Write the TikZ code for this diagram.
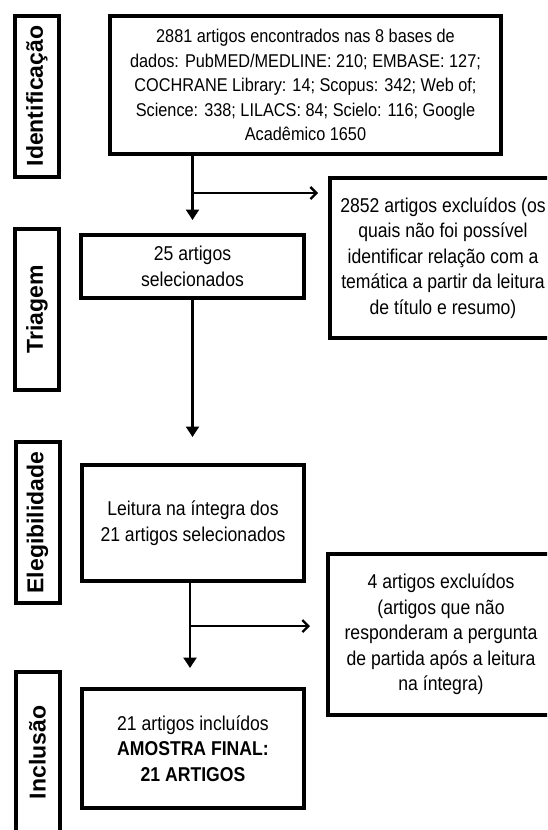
\documentclass[tikz,border=0pt]{standalone}
\usepackage{fontspec}
\newfontfamily\narrowsans{Liberation Sans}[FakeStretch=0.88]
\newfontfamily\labelsans{Liberation Sans}
\usetikzlibrary{arrows.meta}

\begin{document}
\begin{tikzpicture}[x=1pt,y=-1pt,line width=2.3pt,
  every node/.style={font=\narrowsans\fontsize{20pt}{25.5pt}\selectfont,align=center,inner sep=0pt},
  stagebox/.style={draw,line width=4pt,minimum width=161pt,minimum height=44pt,rotate=90,
    font=\labelsans\bfseries\fontsize{23pt}{26pt}\selectfont},
  flowbox/.style={draw,line width=4pt},
  vflow/.style={-{Triangle[length=10.5pt,width=13pt]}},
  hflow/.style={-{Straight Barb[length=6pt,width=12pt]}}]
\useasboundingbox (0,0) rectangle (547,830);
\clip (0,0) rectangle (547,830);
% phase labels
\node[stagebox] (ident) at (37,96) {Identificação};
\node[stagebox] (triag) at (37,309.5) {Triagem};
\node[stagebox] (elegi) at (37.5,522.5) {Elegibilidade};
\node[stagebox] (inclu) at (37.5,752.5) {Inclusão};
% boxes
\node[flowbox,minimum width=391pt,minimum height=138pt,
  font=\narrowsans\fontsize{18.5pt}{24.5pt}\selectfont] (found) at (305.5,85)
  {2881 artigos encontrados nas 8 bases de\\dados: PubMED/MEDLINE: 210; EMBASE: 127;\\COCHRANE Library: 14; Scopus: 342; Web of;\\Science: 338; LILACS: 84; Scielo: 116; Google\\Acadêmico 1650};
\node[flowbox,minimum width=226pt,minimum height=160pt] (excl1) at (443,258)
  {2852 artigos excluídos (os\\quais não foi possível\\identificar relação com a\\temática a partir da leitura\\de título e resumo)};
\node[flowbox,minimum width=223pt,minimum height=63pt] (sel) at (192.5,266.5)
  {25 artigos\\selecionados};
\node[flowbox,minimum width=222pt,minimum height=116pt] (read) at (193,523)
  {Leitura na íntegra dos\\21 artigos selecionados};
\node[flowbox,minimum width=226pt,minimum height=161pt] (excl2) at (441,634.5)
  {4 artigos excluídos\\(artigos que não\\responderam a pergunta\\de partida após a leitura\\na íntegra)};
\node[flowbox,minimum width=222pt,minimum height=119pt] (final) at (193,748.5)
  {21 artigos incluídos\\\textbf{AMOSTRA FINAL:}\\\textbf{21 ARTIGOS}};
% connectors
\coordinate (b1) at (192.5,193);
\coordinate (b2) at (190,626);
\draw[vflow,shorten >=13pt] (found.south -| sel.north) -- (sel.north);
\draw[hflow,shorten >=10pt] (b1) -- (b1 -| excl1.west);
\draw[vflow,shorten >=26pt] (sel.south) -- (sel.south |- read.north);
\draw[vflow,shorten >=19pt] (read.south -| b2) -- (final.north -| b2);
\draw[hflow,shorten >=16pt] (b2) -- (b2 -| excl2.west);
\end{tikzpicture}
\end{document}
